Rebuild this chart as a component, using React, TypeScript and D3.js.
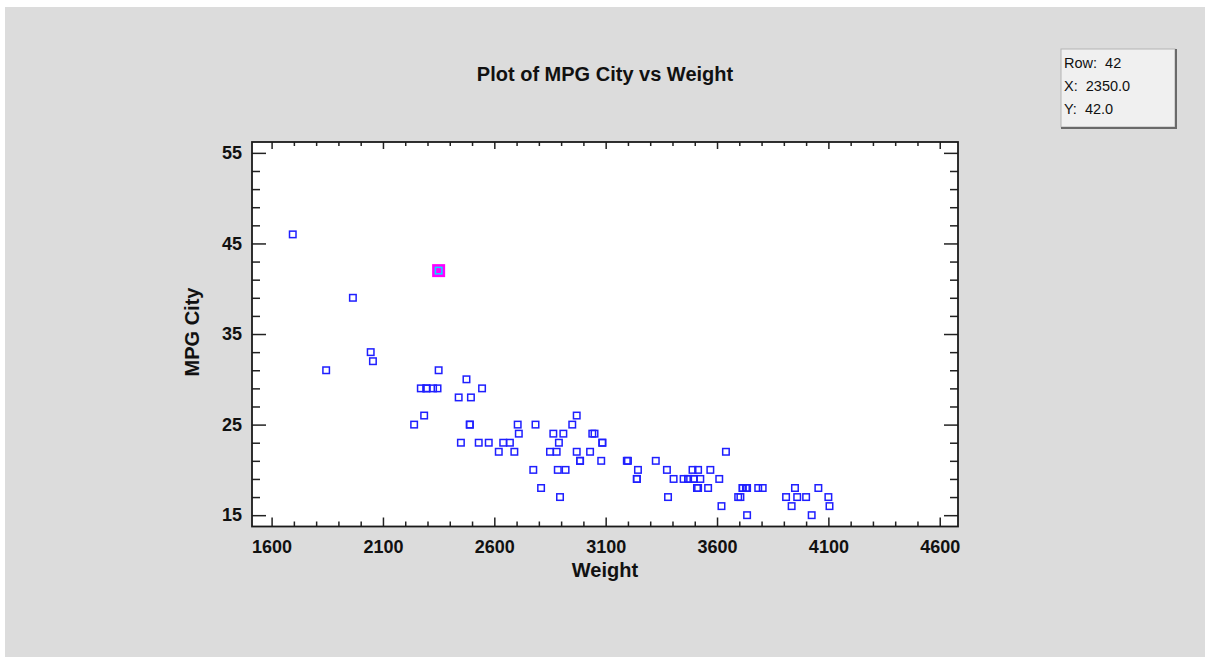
// @ts-nocheck
import React, { useEffect, useRef } from "react";
import * as d3 from "d3";

// Cars93 - weight (lbs) and MPG City, in row order
const weights = [
  2705, 3560, 3375, 3405, 3640, 2880, 3470, 4105, 3495, 3620,
  3935, 2490, 2785, 3240, 3195, 3715, 4025, 3910, 3380, 3515,
  3085, 3570, 2270, 2670, 2970, 3705, 3080, 3805, 2295, 3490,
  1845, 2530, 2690, 2850, 2710, 3735, 3325, 3950, 1695, 2475,
  2865, 2350, 3040, 2345, 2620, 2285, 2885, 4000, 3510, 3515,
  3695, 4055, 2325, 2440, 2970, 3735, 2895, 2920, 3525, 2450,
  3610, 2295, 3730, 2545, 3050, 4100, 3200, 2910, 2890, 3715,
  3470, 2640, 2350, 2575, 3240, 3450, 3495, 2775, 2495, 2045,
  2490, 3085, 1965, 2055, 2950, 3030, 3785, 2240, 3960, 2985,
  2810, 2985, 3245,
];
const mpgCity = [
  25, 18, 20, 19, 22, 22, 19, 16, 19, 16,
  16, 25, 25, 19, 21, 18, 15, 17, 17, 20,
  23, 20, 29, 23, 22, 17, 21, 18, 29, 20,
  31, 23, 22, 22, 24, 15, 21, 18, 46, 30,
  24, 42, 24, 29, 22, 26, 20, 17, 18, 18,
  17, 18, 29, 28, 26, 18, 17, 20, 19, 23,
  19, 29, 18, 29, 24, 17, 21, 24, 23, 18,
  19, 23, 31, 23, 19, 19, 19, 20, 28, 33,
  25, 23, 39, 32, 25, 22, 18, 25, 17, 21,
  18, 21, 20,
];
const selectedRow = 42;
const xTickLabels = [1600, 2100, 2600, 3100, 3600, 4100, 4600];
const yTickLabels = [15, 25, 35, 45, 55];

const FONT = "'Liberation Sans', Arial, sans-serif";

function App() {
  const ref = useRef(null);

  useEffect(() => {
    const svg = d3.select(ref.current);
    svg.selectAll("*").remove();

    var W = 1209, H = 657;
    var plot = { left: 252, right: 958, top: 142, bottom: 526.5 };

    // background
    svg.append("rect").attr("width", W).attr("height", H).attr("fill", "#fff");
    svg.append("rect").attr("x", 5).attr("y", 7).attr("width", 1200).attr("height", 650).attr("fill", "#dcdcdc");

    var x = d3.scaleLinear().domain([1512, 4682]).range([plot.left, plot.right]);
    var y = d3.scaleLinear().domain([13.75, 56.2]).range([plot.bottom, plot.top]);

    svg.append("rect")
      .attr("x", plot.left).attr("y", plot.top)
      .attr("width", plot.right - plot.left).attr("height", plot.bottom - plot.top)
      .attr("fill", "#fff");

    var xMinor = d3.range(1600, 4601, 100).filter((v) => xTickLabels.indexOf(v) < 0);
    var yMinor = d3.range(15, 56, 2).filter((v) => yTickLabels.indexOf(v) < 0);

    function styleAxis(g) {
      g.select(".domain").remove();
      g.selectAll("line").attr("stroke", "#222").attr("stroke-width", 1.5);
      g.selectAll("text")
        .attr("fill", "#111")
        .style("font-family", FONT)
        .style("font-size", "18px")
        .style("font-weight", "bold");
    }

    // left
    svg.append("g").attr("transform", `translate(${plot.left},0)`)
      .call(d3.axisLeft(y).tickValues(yTickLabels).tickSize(-14).tickPadding(10).tickFormat(d3.format("d")))
      .call(styleAxis);
    svg.append("g").attr("transform", `translate(${plot.left},0)`)
      .call(d3.axisLeft(y).tickValues(yMinor).tickSize(-8).tickFormat(""))
      .call(styleAxis);
    // right
    svg.append("g").attr("transform", `translate(${plot.right},0)`)
      .call(d3.axisRight(y).tickValues(yTickLabels).tickSize(-14).tickFormat(""))
      .call(styleAxis);
    svg.append("g").attr("transform", `translate(${plot.right},0)`)
      .call(d3.axisRight(y).tickValues(yMinor).tickSize(-8).tickFormat(""))
      .call(styleAxis);
    // bottom
    svg.append("g").attr("transform", `translate(0,${plot.bottom})`)
      .call(d3.axisBottom(x).tickValues(xTickLabels).tickSize(-9).tickPadding(14).tickFormat(d3.format("d")))
      .call(styleAxis);
    svg.append("g").attr("transform", `translate(0,${plot.bottom})`)
      .call(d3.axisBottom(x).tickValues(xMinor).tickSize(-5).tickFormat(""))
      .call(styleAxis);
    // top
    svg.append("g").attr("transform", `translate(0,${plot.top})`)
      .call(d3.axisTop(x).tickValues(xTickLabels).tickSize(-7).tickFormat(""))
      .call(styleAxis);
    svg.append("g").attr("transform", `translate(0,${plot.top})`)
      .call(d3.axisTop(x).tickValues(xMinor).tickSize(-4).tickFormat(""))
      .call(styleAxis);

    // frame
    svg.append("rect")
      .attr("x", plot.left).attr("y", plot.top)
      .attr("width", plot.right - plot.left).attr("height", plot.bottom - plot.top)
      .attr("fill", "none").attr("stroke", "#1a1a1a").attr("stroke-width", 1.8);

    var data = weights.map((w, i) => ({ row: i + 1, w: w, mpg: mpgCity[i] }));
    var sel = data[selectedRow - 1];

    // highlighted point background
    svg.append("rect")
      .attr("x", x(sel.w) - 6.5).attr("y", y(sel.mpg) - 6.5)
      .attr("width", 13).attr("height", 13)
      .attr("fill", "#ff00ff");

    svg.append("g")
      .selectAll("rect")
      .data(data)
      .enter()
      .append("rect")
      .attr("x", (d) => x(d.w) - 3.25)
      .attr("y", (d) => y(d.mpg) - 3.25)
      .attr("width", 6.5)
      .attr("height", 6.5)
      .attr("fill", "none")
      .attr("stroke", (d) => (d.row === selectedRow ? "#00e5ff" : "#1f1fff"))
      .attr("stroke-width", 1.5);

    // titles
    svg.append("text")
      .attr("x", 605).attr("y", 81)
      .attr("text-anchor", "middle")
      .style("font-family", FONT).style("font-size", "20px").style("font-weight", "bold")
      .attr("fill", "#111")
      .text("Plot of MPG City vs Weight");
    svg.append("text")
      .attr("x", 605).attr("y", 577)
      .attr("text-anchor", "middle")
      .style("font-family", FONT).style("font-size", "20px").style("font-weight", "bold")
      .attr("fill", "#111")
      .text("Weight");
    svg.append("text")
      .attr("transform", "translate(199,332) rotate(-90)")
      .attr("text-anchor", "middle")
      .style("font-family", FONT).style("font-size", "20px").style("font-weight", "bold")
      .attr("fill", "#111")
      .text("MPG City");

    // info box
    var bx = 1061, by = 49, bw = 114, bh = 78;
    svg.append("rect").attr("x", bx).attr("y", by).attr("width", bw).attr("height", bh)
      .attr("fill", "#f0f0f0").attr("stroke", "#b4b4b4").attr("stroke-width", 1);
    svg.append("path")
      .attr("d", `M${bx + bw + 1},${by} V${by + bh + 1} H${bx}`)
      .attr("fill", "none").attr("stroke", "#6a6a6a").attr("stroke-width", 2);
    var lines = ["Row:  " + sel.row, "X:  " + sel.w.toFixed(1), "Y:  " + sel.mpg.toFixed(1)];
    svg.append("g")
      .selectAll("text")
      .data(lines)
      .enter()
      .append("text")
      .attr("x", bx + 3)
      .attr("y", (d, i) => 68 + i * 23)
      .style("font-family", FONT).style("font-size", "14.5px")
      .style("white-space", "pre")
      .attr("fill", "#111")
      .text((d) => d);
  }, []);

  return (
    <svg ref={ref} width={1209} height={657} style={{ position: "absolute", left: 0, top: 0 }} />
  );
}

export default App;
